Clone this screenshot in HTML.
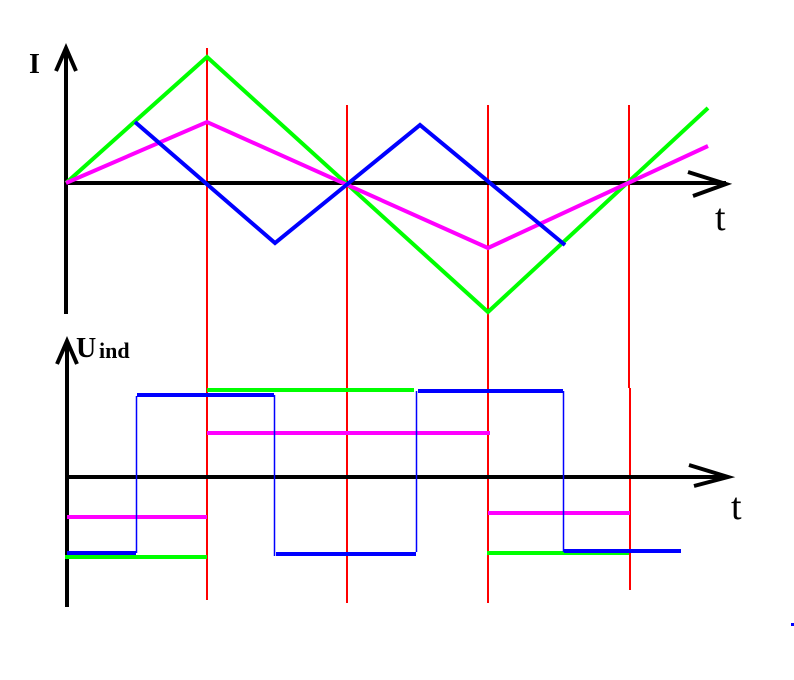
<!DOCTYPE html>
<html><head><style>html,body{margin:0;padding:0;background:#fff}svg{display:block}</style></head>
<body>
<svg width="794" height="680" viewBox="0 0 794 680" xmlns="http://www.w3.org/2000/svg">
<rect width="794" height="680" fill="#fff"/>
<g stroke="#ff0000" stroke-width="2" fill="none">
<line x1="207" y1="48" x2="207" y2="600"/>
<line x1="347" y1="105" x2="347" y2="603"/>
<line x1="488" y1="105" x2="488" y2="603"/>
<line x1="629" y1="105" x2="629" y2="388"/>
<line x1="630" y1="388" x2="630" y2="590"/>
</g>
<g stroke="#000" stroke-width="4" fill="none" stroke-linecap="butt">
<line x1="66" y1="50" x2="66" y2="314"/>
<polyline points="56,71 66,48 76,71"/>
<line x1="66" y1="183" x2="726" y2="183"/>
<polyline points="688,172 726,184 693,196"/>
<line x1="67" y1="343" x2="67" y2="607"/>
<polyline points="57,364 67,341 77,364"/>
<line x1="67" y1="477" x2="728" y2="477"/>
<polyline points="689,465 728,477 694,486"/>
</g>
<g fill="none" stroke-width="4" stroke-linejoin="miter">
<polyline stroke="#00ff00" points="66,183 207,57 488,312 708,108"/>
<polyline stroke="#ff00ff" points="66,183 207,122 488,248 708,146"/>
<polyline stroke="#0000ff" points="135,122 275,243 420,125 565,245"/>
</g>
<g fill="none" stroke-width="4">
<line stroke="#00ff00" x1="65" y1="557" x2="207" y2="557"/>
<line stroke="#00ff00" x1="207" y1="390" x2="414" y2="390"/>
<line stroke="#00ff00" x1="487" y1="553" x2="629" y2="553"/>
<line stroke="#ff00ff" x1="67" y1="517" x2="207" y2="517"/>
<line stroke="#ff00ff" x1="207" y1="433" x2="490" y2="433"/>
<line stroke="#ff00ff" x1="488" y1="513" x2="630" y2="513"/>
<line stroke="#0000ff" x1="67" y1="553" x2="136" y2="553"/>
<line stroke="#0000ff" x1="137" y1="395" x2="274" y2="395"/>
<line stroke="#0000ff" x1="276" y1="554" x2="416" y2="554"/>
<line stroke="#0000ff" x1="418" y1="391" x2="563" y2="391"/>
<line stroke="#0000ff" x1="564" y1="551" x2="681" y2="551"/>
</g>
<g stroke="#0000ff" stroke-width="1.5" fill="none">
<line x1="136.5" y1="553" x2="136.5" y2="396"/>
<line x1="274.5" y1="395" x2="274.5" y2="556"/>
<line x1="416.5" y1="552" x2="416.5" y2="391"/>
<line x1="563.5" y1="391" x2="563.5" y2="552"/>
</g>
<rect x="791" y="623" width="3" height="3" fill="#0000ff"/>
<g font-family="Liberation Serif, serif" fill="#000">
<text x="29" y="73" font-size="28" font-weight="bold">I</text>
<text x="76" y="357" font-size="28" font-weight="bold">U</text>
<text x="99" y="358" font-size="22" font-weight="bold">ind</text>
<text x="715" y="230" font-size="38">t</text>
<text x="731" y="519" font-size="38">t</text>
</g>
</svg>
</body></html>
